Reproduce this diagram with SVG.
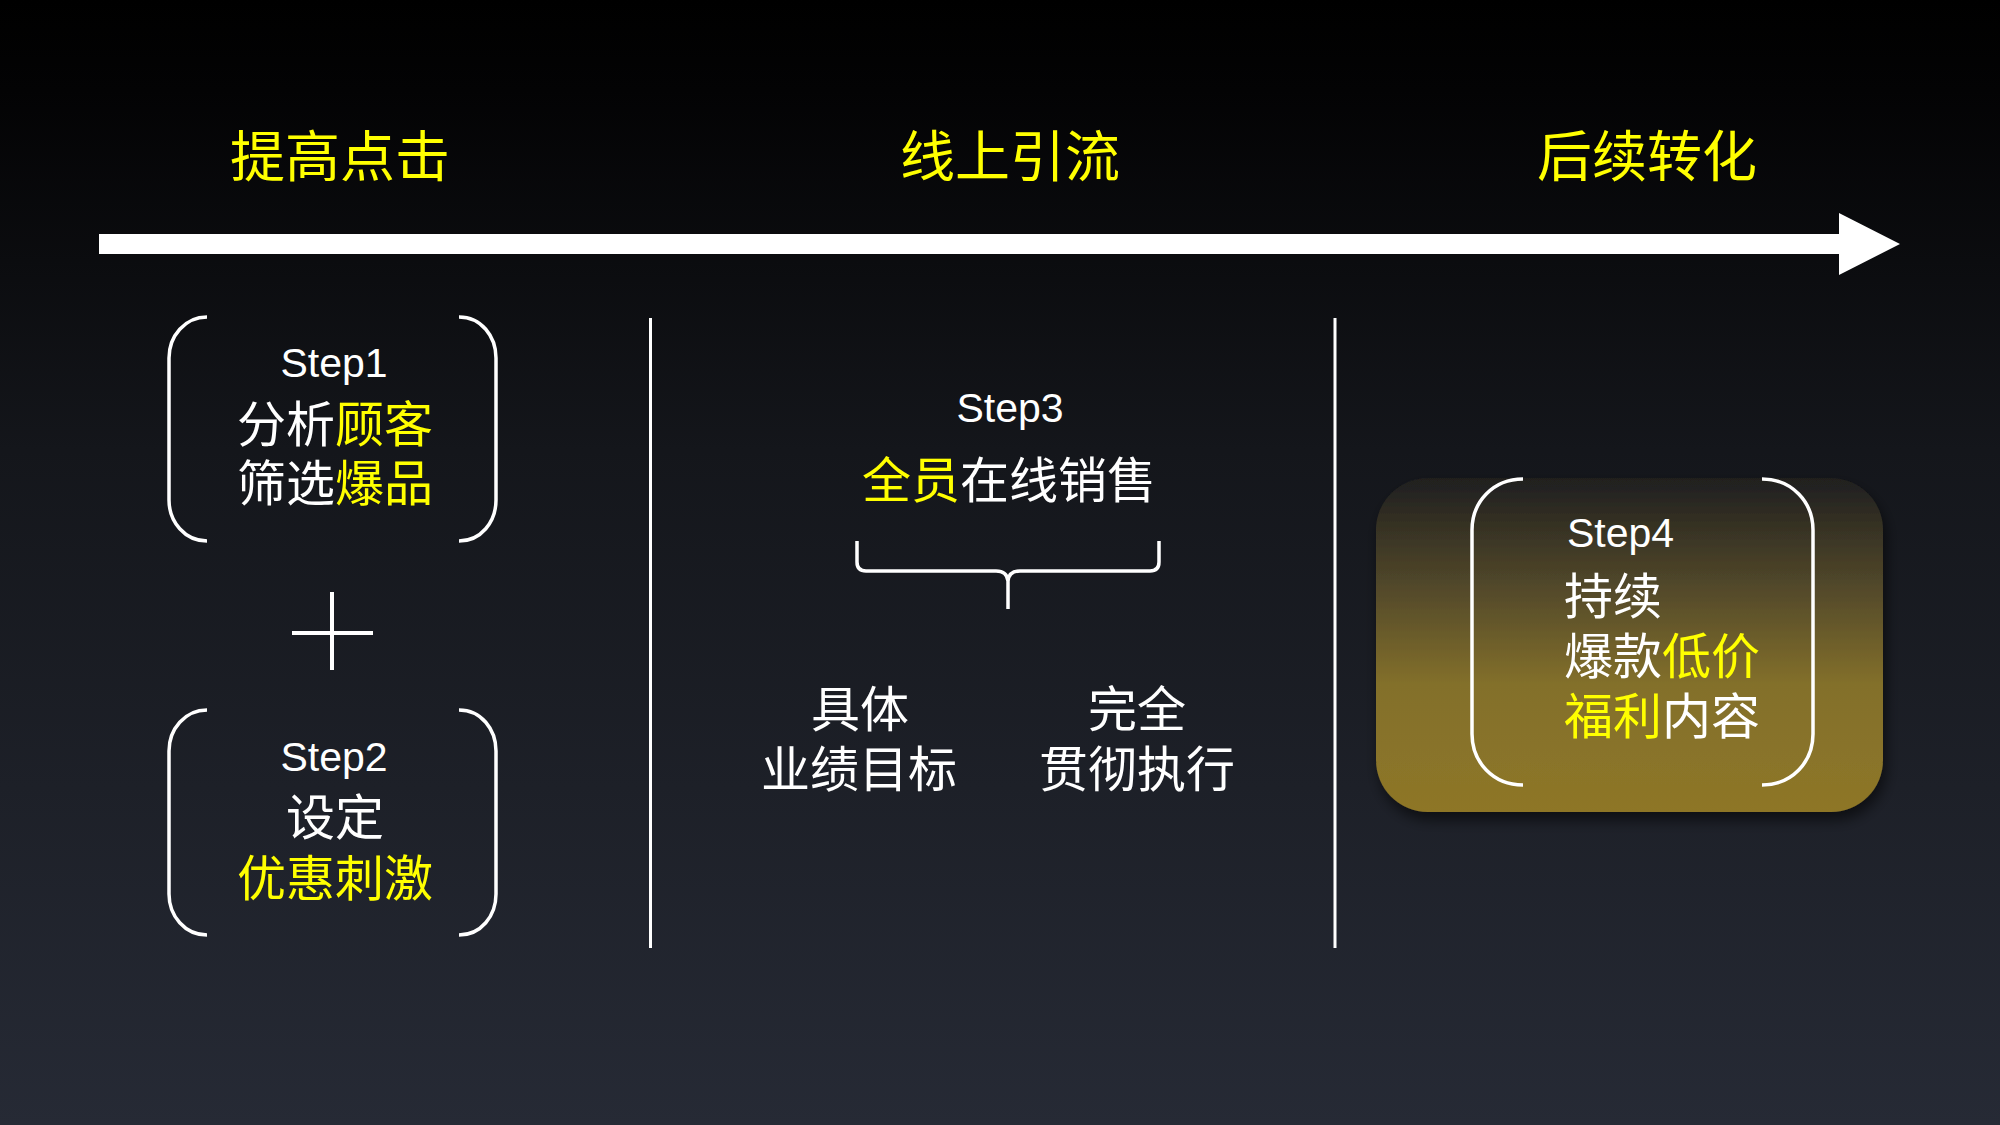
<svg xmlns="http://www.w3.org/2000/svg" width="2000" height="1125" viewBox="0 0 2000 1125">
  <style>
    text { font-family: "Liberation Sans", "Noto Sans CJK SC", sans-serif; fill: #ffffff; }
    .title { font-size: 55px; fill: #ffff00; text-anchor: middle; }
    .cj { font-size: 49px; }
    .mid { text-anchor: middle; }
    .step { font-size: 41px; }
    .y { fill: #ffff00; }
    .w { fill: #ffffff; }
    .ln { fill: none; stroke: #ffffff; stroke-linecap: butt; stroke-linejoin: round; }
  </style>
  <defs>
    <linearGradient id="bg" x1="0" y1="0" x2="0" y2="1">
      <stop offset="0" stop-color="#000000"/>
      <stop offset="0.08" stop-color="#030304"/>
      <stop offset="0.4" stop-color="#14161b"/>
      <stop offset="1" stop-color="#262a35"/>
    </linearGradient>
    <linearGradient id="gold" x1="0" y1="0" x2="0" y2="1">
      <stop offset="0" stop-color="#1f1f1f"/>
      <stop offset="0.3" stop-color="#4e4529"/>
      <stop offset="0.62" stop-color="#83702c"/>
      <stop offset="1" stop-color="#8e7627"/>
    </linearGradient>
    <filter id="shadow" x="-10%" y="-10%" width="125%" height="130%">
      <feDropShadow dx="3" dy="8" stdDeviation="7" flood-color="#000000" flood-opacity="0.55"/>
    </filter>
  </defs>

  <rect x="0" y="0" width="2000" height="1125" fill="url(#bg)"/>

  <g id="title1"><text class="title" x="340" y="176">提高点击</text></g>
  <g id="title2"><text class="title" x="1010" y="176">线上引流</text></g>
  <g id="title3"><text class="title" x="1647" y="176">后续转化</text></g>

  <g id="connectors">
    <polygon id="timeline" points="99,234 1839,234 1839,213 1900,244 1839,275 1839,254 99,254" fill="#ffffff"/>
    <line class="ln" x1="650.5" y1="318" x2="650.5" y2="948" stroke-width="3"/>
    <line class="ln" x1="1335" y1="318" x2="1335" y2="948" stroke-width="3"/>
    <path id="brace" class="ln" stroke-width="3.5" d="M857 541 L857 562 Q857 571 866 571 L996 571 Q1007 571 1008 581 L1008 609 M1159 541 L1159 562 Q1159 571 1150 571 L1020 571 Q1009 571 1008 581"/>
  </g>

  <g id="step1">
    <path class="ln" stroke-width="3.5" d="M207 317 C185 317 169 336 169 358 L169 500 C169 522 185 541 207 541"/>
    <path class="ln" stroke-width="3.5" d="M459 317 C481 317 496 336 496 358 L496 500 C496 522 481 541 459 541"/>
    <text class="step mid" x="334" y="377">Step1</text>
    <text class="cj mid" x="335" y="442"><tspan class="w">分析</tspan><tspan class="y">顾客</tspan></text>
    <text class="cj mid" x="335" y="501"><tspan class="w">筛选</tspan><tspan class="y">爆品</tspan></text>
  </g>

  <g id="plus">
    <line class="ln" x1="332" y1="592" x2="332" y2="670" stroke-width="4"/>
    <line class="ln" x1="292" y1="633" x2="373" y2="633" stroke-width="4"/>
  </g>

  <g id="step2">
    <path class="ln" stroke-width="3.5" d="M207 710 C185 710 169 729 169 751 L169 894 C169 916 185 935 207 935"/>
    <path class="ln" stroke-width="3.5" d="M459 710 C481 710 496 729 496 751 L496 894 C496 916 481 935 459 935"/>
    <text class="step mid" x="334" y="771">Step2</text>
    <text class="cj mid" x="335" y="835">设定</text>
    <text class="cj mid y" x="335" y="896">优惠刺激</text>
  </g>

  <g id="step3">
    <text class="step mid" x="1010" y="422">Step3</text>
    <text class="cj mid" x="1009" y="498"><tspan class="y">全员</tspan><tspan class="w">在线销售</tspan></text>
  </g>

  <g id="goal">
    <text class="cj mid" x="860" y="727">具体</text>
    <text class="cj mid" x="859" y="787">业绩目标</text>
  </g>

  <g id="execute">
    <text class="cj mid" x="1137" y="727">完全</text>
    <text class="cj mid" x="1137" y="787">贯彻执行</text>
  </g>

  <g id="step4">
    <rect x="1376" y="478" width="507" height="334" rx="52" ry="52" fill="url(#gold)" filter="url(#shadow)"/>
    <path class="ln" stroke-width="3.5" d="M1523 479 C1493 479 1472 502 1472 530 L1472 734 C1472 762 1493 785 1523 785"/>
    <path class="ln" stroke-width="3.5" d="M1762 479 C1792 479 1813 502 1813 530 L1813 734 C1813 762 1792 785 1762 785"/>
    <text class="step" x="1567" y="547">Step4</text>
    <text class="cj" x="1564" y="614">持续</text>
    <text class="cj" x="1564" y="674"><tspan class="w">爆款</tspan><tspan class="y">低价</tspan></text>
    <text class="cj" x="1564" y="734"><tspan class="y">福利</tspan><tspan class="w">内容</tspan></text>
  </g>
</svg>
